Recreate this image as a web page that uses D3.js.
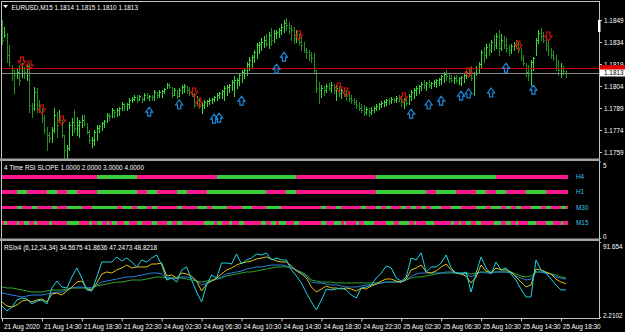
<!DOCTYPE html>
<html><head><meta charset="utf-8">
<script src="https://cdn.jsdelivr.net/npm/d3@7/dist/d3.min.js"></script>
<style>
body{margin:0;background:#000;}
svg{display:block;}
text{font-family:"Liberation Sans",Arial,sans-serif;}
</style>
</head><body>
<svg id="c" width="625" height="332"></svg>
<script>
// ---------------- DATA ----------------
const symbolTitle = "EURUSD,M15";
const firstOpen = 1.18421;
const highs = [1.18490,1.18442,1.18401,1.18319,1.18183,1.18149,1.18162,1.18183,1.18196,1.18169,
1.18190,1.18196,1.17924,1.18033,1.18026,1.17944,1.17889,1.17842,1.17760,1.17726,
1.17760,1.17889,1.17862,1.17876,1.17808,1.17705,1.17637,1.17794,1.17821,1.17876,
1.17828,1.17808,1.17842,1.17842,1.17787,1.17739,1.17692,1.17739,1.17774,1.17774,
1.17794,1.17808,1.17855,1.17855,1.17889,1.17876,1.17889,1.17896,1.17930,1.17924,
1.17924,1.17958,1.17965,1.17978,1.17978,1.17978,1.17965,1.17992,1.17992,1.17978,
1.17978,1.18012,1.17999,1.18012,1.18012,1.18026,1.18060,1.18060,1.18033,1.18026,
1.18012,1.18026,1.18046,1.18053,1.18040,1.18033,1.18026,1.17992,1.17971,1.17958,
1.17924,1.17944,1.17944,1.17958,1.17958,1.17971,1.17992,1.17999,1.18012,1.18040,
1.18046,1.18053,1.18080,1.18108,1.18094,1.18128,1.18149,1.18162,1.18203,1.18237,
1.18251,1.18285,1.18333,1.18340,1.18367,1.18381,1.18394,1.18408,1.18435,1.18421,
1.18421,1.18435,1.18462,1.18490,1.18503,1.18476,1.18456,1.18442,1.18421,1.18401,
1.18374,1.18340,1.18299,1.18285,1.18271,1.18265,1.18149,1.18067,1.18046,1.18040,
1.18053,1.18060,1.18067,1.18053,1.18046,1.18040,1.18026,1.18026,1.18012,1.17992,
1.17978,1.17958,1.17944,1.17930,1.17917,1.17910,1.17896,1.17889,1.17896,1.17903,
1.17917,1.17924,1.17937,1.17944,1.17951,1.17958,1.17965,1.17958,1.17971,1.17978,
1.17971,1.17958,1.17965,1.17985,1.18012,1.18026,1.18040,1.18046,1.18067,1.18080,
1.18067,1.18080,1.18067,1.18080,1.18087,1.18094,1.18115,1.18135,1.18149,1.18128,
1.18115,1.18108,1.18115,1.18101,1.18108,1.18121,1.18149,1.18162,1.18176,1.18135,
1.18176,1.18203,1.18285,1.18306,1.18326,1.18333,1.18353,1.18387,1.18401,1.18421,
1.18394,1.18381,1.18367,1.18319,1.18326,1.18340,1.18353,1.18340,1.18299,1.18251,
1.18196,1.18183,1.18217,1.18237,1.18367,1.18421,1.18435,1.18408,1.18374,1.18353,
1.18299,1.18285,1.18251,1.18217,1.18196,1.18176,1.18150];
const lows = [1.18326,1.18374,1.18203,1.18176,1.18080,1.17992,1.18094,1.18046,1.18101,1.18094,
1.18080,1.17862,1.17828,1.17876,1.17862,1.17862,1.17794,1.17719,1.17603,1.17658,
1.17658,1.17726,1.17692,1.17794,1.17692,1.17548,1.17535,1.17603,1.17705,1.17726,
1.17705,1.17692,1.17760,1.17774,1.17719,1.17651,1.17624,1.17637,1.17671,1.17726,
1.17739,1.17760,1.17794,1.17808,1.17828,1.17828,1.17835,1.17842,1.17876,1.17876,
1.17876,1.17889,1.17930,1.17944,1.17930,1.17944,1.17930,1.17944,1.17958,1.17944,
1.17944,1.17944,1.17958,1.17965,1.17965,1.17992,1.18026,1.18026,1.17965,1.17978,
1.17958,1.17971,1.17992,1.17999,1.17992,1.17978,1.17971,1.17896,1.17910,1.17889,
1.17855,1.17889,1.17903,1.17917,1.17924,1.17937,1.17944,1.17958,1.17958,1.17944,
1.17978,1.17999,1.18012,1.17971,1.18026,1.18046,1.18067,1.18094,1.18115,1.18149,
1.18162,1.18203,1.18230,1.18265,1.18285,1.18306,1.18312,1.18299,1.18319,1.18340,
1.18367,1.18374,1.18394,1.18408,1.18421,1.18401,1.18353,1.18333,1.18340,1.18319,
1.18285,1.18271,1.18230,1.18217,1.18203,1.18135,1.17999,1.17924,1.17965,1.17978,
1.17999,1.18012,1.17999,1.17992,1.17944,1.17971,1.17958,1.17971,1.17944,1.17937,
1.17924,1.17917,1.17889,1.17876,1.17862,1.17842,1.17849,1.17835,1.17849,1.17862,
1.17876,1.17883,1.17896,1.17903,1.17910,1.17917,1.17924,1.17930,1.17930,1.17937,
1.17903,1.17889,1.17910,1.17917,1.17944,1.17958,1.17978,1.17992,1.18012,1.18026,
1.18012,1.18033,1.18026,1.18040,1.18033,1.18046,1.18053,1.18067,1.18080,1.18067,
1.18067,1.18060,1.18067,1.18053,1.18046,1.18067,1.18094,1.18108,1.18080,1.17978,
1.18115,1.18135,1.18162,1.18203,1.18230,1.18251,1.18271,1.18285,1.18299,1.18251,
1.18285,1.18299,1.18271,1.18251,1.18265,1.18285,1.18299,1.18271,1.18217,1.18183,
1.18108,1.18080,1.18046,1.18149,1.18251,1.18333,1.18353,1.18340,1.18285,1.18251,
1.18230,1.18217,1.18149,1.18115,1.18101,1.18121,1.18100];
const closes = [1.18353,1.18387,1.18251,1.18203,1.18149,1.18115,1.18135,1.18080,1.18162,1.18135,
1.18176,1.17910,1.17889,1.17999,1.17910,1.17876,1.17821,1.17739,1.17705,1.17685,
1.17739,1.17842,1.17774,1.17808,1.17705,1.17603,1.17617,1.17774,1.17794,1.17753,
1.17774,1.17794,1.17808,1.17780,1.17726,1.17671,1.17671,1.17726,1.17753,1.17767,
1.17787,1.17801,1.17842,1.17835,1.17876,1.17862,1.17876,1.17889,1.17917,1.17903,
1.17917,1.17944,1.17951,1.17965,1.17944,1.17971,1.17951,1.17978,1.17965,1.17971,
1.17965,1.17999,1.17978,1.17999,1.18005,1.18019,1.18046,1.18033,1.17978,1.18012,
1.17971,1.18012,1.18033,1.18040,1.18012,1.17999,1.17985,1.17910,1.17944,1.17903,
1.17910,1.17930,1.17937,1.17944,1.17951,1.17965,1.17978,1.17992,1.18005,1.18026,
1.18033,1.18046,1.18067,1.18080,1.18080,1.18115,1.18135,1.18149,1.18190,1.18217,
1.18237,1.18271,1.18319,1.18326,1.18340,1.18353,1.18326,1.18387,1.18353,1.18401,
1.18408,1.18421,1.18442,1.18469,1.18456,1.18435,1.18421,1.18367,1.18387,1.18340,
1.18319,1.18285,1.18271,1.18251,1.18230,1.18149,1.18026,1.18012,1.18026,1.18012,
1.18040,1.18026,1.18046,1.18012,1.18026,1.17992,1.18012,1.17985,1.17971,1.17958,
1.17944,1.17930,1.17910,1.17889,1.17876,1.17862,1.17883,1.17862,1.17876,1.17889,
1.17903,1.17917,1.17924,1.17930,1.17944,1.17937,1.17951,1.17944,1.17958,1.17951,
1.17930,1.17944,1.17924,1.17971,1.17999,1.18012,1.18026,1.18040,1.18053,1.18046,
1.18060,1.18046,1.18060,1.18067,1.18080,1.18087,1.18108,1.18121,1.18108,1.18094,
1.18080,1.18094,1.18080,1.18094,1.18101,1.18115,1.18135,1.18121,1.18094,1.18128,
1.18162,1.18190,1.18271,1.18251,1.18306,1.18285,1.18340,1.18319,1.18381,1.18299,
1.18353,1.18319,1.18299,1.18285,1.18312,1.18326,1.18319,1.18285,1.18230,1.18196,
1.18135,1.18115,1.18203,1.18230,1.18353,1.18401,1.18381,1.18353,1.18319,1.18285,
1.18251,1.18230,1.18183,1.18149,1.18162,1.18142,1.18130];
const priceTicks = [1.1849,1.1834,1.1819,1.1804,1.1789,1.1774,1.1759];
const askPrice = 1.1816;
const bidPrice = 1.1813;
const sellIdx = [8,11,16,24,77,79,119,135,138,161,187,207,219];
const sellPrice = [1.18203,1.18176,1.17876,1.17801,1.17992,1.17924,1.18381,1.18026,1.17992,1.17958,1.18128,1.18312,1.18374];
const buyIdx = [59,71,85,87,96,110,113,164,171,176,184,187,196,202,213];
const buyPrice = [1.17869,1.17917,1.17821,1.17828,1.17944,1.18162,1.18244,1.17855,1.17917,1.17944,1.17978,1.17992,1.17999,1.18169,1.18019];

// 4 Time RSI slope: green runs (bar index ranges), pink elsewhere
const slopeNames = ["H4","H1","M30","M15"];
const slopeLevels = [4,3,2,1];
const greenH4 = [[38,53],[86,117],[150,197]];
const greenH1 = [[6,9],[18,21],[26,29],[38,53],[58,61],[70,73],[82,105],[114,117],[150,169],[174,181],[190,193],[198,201],[210,217]];
const greenM30 = [[6,7],[12,13],[20,21],[26,31],[36,45],[48,51],[54,57],[60,61],[70,71],[78,81],[84,89],[96,99],[106,111],[128,129],[134,135],[144,145],[150,151],[154,155],[160,161],[164,165],[168,169],[172,175],[180,183],[190,193],[196,199],[202,203],[206,207],[212,215],[218,219],[224,225]];
const greenM15 = [[1,1],[6,6],[9,10],[13,13],[19,19],[26,30],[35,35],[38,39],[42,42],[44,45],[49,50],[54,55],[60,61],[66,67],[70,71],[81,84],[86,87],[91,91],[95,96],[104,105],[108,109],[111,113],[117,118],[128,129],[133,135],[137,137],[142,142],[145,148],[154,156],[159,162],[165,165],[170,172],[180,180],[183,183],[186,187],[190,191],[197,199],[202,203],[206,206],[211,213],[218,220],[224,224]];
const slopeTitle = "4 Time RSI SLOPE";

// RSI x4 (values every 2 bars)
const rsiPeriods = [6,12,24,34];
const rsi6 = [15.3,9.4,14.1,22.5,24.9,23.7,17.7,21.3,22.5,17.7,
36.8,45.1,38.0,36.8,49.9,60.7,48.7,34.4,33.2,49.9,
67.8,67.8,67.8,73.8,69.0,72.6,67.8,61.9,70.2,67.8,
72.6,76.2,64.2,46.3,48.7,43.9,58.3,61.9,46.3,32.0,
20.1,40.4,52.3,48.7,66.6,66.6,65.4,77.4,65.4,70.2,
72.6,77.4,76.2,78.6,70.2,72.6,70.2,70.2,58.3,51.1,
42.8,30.8,20.1,10.6,22.5,35.6,34.4,35.6,36.8,34.4,
28.4,24.9,36.8,38.0,40.4,48.7,54.7,63.0,60.7,48.7,
45.1,49.9,72.6,70.2,78.6,55.9,61.9,61.9,66.6,76.2,
60.7,54.7,53.5,55.9,32.0,54.7,73.8,60.7,53.5,67.8,
58.3,60.7,53.5,46.3,35.6,26.1,26.1,70.2,58.3,54.7,
47.5,40.4,34.4,34.5675];
const rsi12 = [20.1,15.3,14.1,16.5,21.3,22.5,20.1,22.5,23.7,20.1,
29.6,30.8,28.4,33.2,38.0,43.9,45.1,35.6,34.4,42.8,
53.5,55.9,54.7,58.3,60.7,64.2,60.7,61.9,61.9,61.9,
65.4,65.4,66.6,51.1,52.3,48.7,54.7,53.5,51.1,45.1,
33.2,41.6,45.1,48.7,53.5,58.3,60.7,64.2,66.6,67.8,
69.0,71.4,72.6,73.8,71.4,69.0,67.8,67.8,63.0,57.1,
53.5,48.7,38.0,32.0,35.6,39.2,36.8,36.8,35.6,36.8,
35.6,33.2,36.8,35.6,39.2,41.6,45.1,47.5,47.5,45.1,
43.9,47.5,58.3,60.7,64.2,55.9,54.7,57.1,61.9,65.4,
58.3,54.7,53.5,51.1,42.8,49.9,64.2,57.1,54.7,60.7,
58.3,58.3,55.9,49.9,43.9,38.0,40.4,59.5,58.3,55.9,
53.5,47.5,43.9,41.8636];
const rsi24 = [30.8,29.6,28.4,27.3,26.1,27.3,28.4,28.4,28.4,29.6,
30.8,32.0,32.0,34.4,36.8,38.0,38.0,36.8,36.8,40.4,
43.9,45.1,46.3,47.5,48.7,49.9,49.9,51.1,52.3,53.5,
54.7,54.7,53.5,48.7,48.7,48.7,49.9,49.9,48.7,45.1,
40.4,42.8,45.1,47.5,49.9,53.5,54.7,55.9,57.1,59.5,
60.7,61.9,61.9,63.0,64.2,64.2,64.2,63.0,60.7,58.3,
54.7,51.1,43.9,42.8,42.8,41.6,40.4,40.4,39.2,38.0,
38.0,38.0,39.2,40.4,40.4,41.6,42.8,43.9,43.9,43.9,
43.9,46.3,51.1,53.5,54.7,54.7,54.7,54.7,54.7,55.9,
55.9,54.7,54.7,53.5,49.9,53.5,55.9,54.7,54.7,55.9,
55.9,55.9,54.7,51.1,48.7,46.3,47.5,55.9,55.9,54.7,
53.5,49.9,48.7,47.2473];
const rsi34 = [38.0,36.8,36.8,35.6,34.4,33.2,32.0,32.0,32.0,33.2,
34.4,34.4,34.4,35.6,36.8,36.8,36.8,36.8,36.8,39.2,
40.4,41.6,42.8,43.9,43.9,45.1,46.3,46.3,46.3,47.5,
48.7,49.9,49.9,48.7,48.7,48.7,48.7,47.5,46.3,45.1,
43.9,45.1,46.3,47.5,48.7,51.1,52.3,53.5,54.7,55.9,
55.9,57.1,58.3,59.5,60.7,61.9,61.9,61.9,60.7,58.3,
55.9,52.3,46.3,45.1,43.9,43.9,43.9,42.8,42.8,42.8,
42.8,42.8,42.8,42.8,42.8,42.8,42.8,43.9,43.9,43.9,
43.9,46.3,48.7,49.9,49.9,51.1,52.3,53.5,54.7,54.7,
54.7,54.7,54.7,54.7,53.5,54.7,55.9,55.9,55.9,55.9,
55.9,55.9,55.9,53.5,51.1,49.9,51.1,55.9,55.9,54.7,
53.5,52.3,49.9,48.8218];
const rsiMax = 91.654, rsiMin = 2.2102;

const timeIdx = [0,16,32,48,64,80,96,112,128,144,160,176,192,208,224];
const timeLabels = ["21 Aug 2020","21 Aug 14:30","21 Aug 18:30","21 Aug 22:30","24 Aug 02:30","24 Aug 06:30","24 Aug 10:30","24 Aug 14:30","24 Aug 18:30","24 Aug 22:30","25 Aug 02:30","25 Aug 06:30","25 Aug 10:30","25 Aug 14:30","25 Aug 18:30"];

// ---------------- DRAW ----------------
const FS = 6.4;
const W = 625, H = 332, AX = 599;
const svg = d3.select("#c");
svg.append("rect").attr("width",W).attr("height",H).attr("fill","#000");

const n = highs.length;
const x = d3.scaleLinear().domain([0, 226]).range([2, 565.9]);
const px = i => Math.round(x(i)) + 0.5;
const yP = d3.scaleLinear().domain([1.1759, 1.1849]).range([152, 20]);
const yS = d3.scaleLinear().domain([0, 5]).range([238, 161.5]);
const yR = d3.scaleLinear().domain([rsiMin, rsiMax]).range([317, 242]);

const opens = closes.map((c,i) => i === 0 ? firstOpen : closes[i-1]);
const barColor = i => closes[i] >= opens[i] ? "#36dc36" : "#1f8f1f";

// price bars
const gb = svg.append("g").attr("shape-rendering","crispEdges");
const idx = d3.range(n);
gb.selectAll("line.hl").data(idx).join("line")
  .attr("x1", i => px(i)).attr("x2", i => px(i))
  .attr("y1", i => Math.round(yP(highs[i]))).attr("y2", i => Math.round(yP(lows[i])) + 1)
  .attr("stroke", barColor);
gb.selectAll("rect.cl").data(idx).join("rect")
  .attr("x", i => Math.round(x(i)) + 1).attr("width", 1)
  .attr("y", i => Math.round(yP(closes[i]))).attr("height", 1)
  .attr("fill", barColor);

// ask / bid lines
svg.append("line").attr("x1",1).attr("x2",AX).attr("y1",Math.round(yP(askPrice))+0.5).attr("y2",Math.round(yP(askPrice))+0.5)
  .attr("stroke","#d00000").attr("stroke-width",1.2);
svg.append("line").attr("x1",1).attr("x2",AX).attr("y1",Math.round(yP(bidPrice))+0.5).attr("y2",Math.round(yP(bidPrice))+0.5)
  .attr("stroke","#8a8a8a").attr("stroke-width",1.2);

// arrows
function downArrow(cx, cy){
  return `M${cx-1.6},${cy-5}H${cx+1.6}V${cy-1}H${cx+3.6}L${cx},${cy+4}L${cx-3.6},${cy-1}H${cx-1.6}Z`;
}
function upArrow(cx, cy){
  return `M${cx-1.6},${cy+5}H${cx+1.6}V${cy+1}H${cx+3.6}L${cx},${cy-4}L${cx-3.6},${cy+1}H${cx-1.6}Z`;
}
svg.append("g").selectAll("path").data(sellIdx).join("path")
  .attr("d", (d,k) => downArrow(x(d), yP(sellPrice[k])))
  .attr("fill","none").attr("stroke","#e01010").attr("stroke-width",1.1);
svg.append("g").selectAll("path").data(buyIdx).join("path")
  .attr("d", (d,k) => upArrow(x(d), yP(buyPrice[k])))
  .attr("fill","none").attr("stroke","#1e90e8").attr("stroke-width",1.1);

// slope panel
const slopeGreens = [greenH4, greenH1, greenM30, greenM15];
const gs = svg.append("g").attr("shape-rendering","crispEdges");
slopeLevels.forEach((lv, r) => {
  const yc = yS(lv);
  gs.append("rect").attr("x", x(0)).attr("width", x(226) + 2.5 - x(0))
    .attr("y", yc - 1.7).attr("height", 3.5).attr("fill", "#ff168f");
  gs.selectAll(null).data(slopeGreens[r]).join("rect")
    .attr("x", d => x(d[0])).attr("width", d => x(d[1]) + 2.5 - x(d[0]))
    .attr("y", yc - 1.7).attr("height", 3.5).attr("fill", "#38cc38");
  svg.append("text").attr("x", 576).attr("y", yc + 2.3).text(slopeNames[r])
    .attr("fill", "#38c4ee").attr("font-size", FS);
});

// RSI lines
const rsiSeries = [rsi34, rsi24, rsi12, rsi6];
const rsiColors = ["#2ea82e", "#2a80e0", "#e6c21a", "#1cd6e6"];
const line = d3.line().x((d,k) => x(2*k)).y(d => yR(d));
rsiSeries.forEach((s, j) => {
  svg.append("path").attr("d", line(s)).attr("fill","none").attr("stroke", rsiColors[j]).attr("stroke-width",1);
});

// frames / separators
const frame = "#c4c4c4";
svg.append("line").attr("x1",1).attr("x2",AX).attr("y1",1.5).attr("y2",1.5).attr("stroke",frame);
svg.append("line").attr("x1",1.5).attr("x2",1.5).attr("y1",1).attr("y2",318).attr("stroke",frame);
svg.append("line").attr("x1",AX+0.5).attr("x2",AX+0.5).attr("y1",1).attr("y2",319).attr("stroke",frame);
svg.append("line").attr("x1",1).attr("x2",AX+1).attr("y1",318.5).attr("y2",318.5).attr("stroke",frame);
[158.5, 238.5].forEach(yy => {
  svg.append("rect").attr("x",0).attr("width",AX+1).attr("y",yy).attr("height",2.5).attr("fill","#a4a4a4");
});

// price axis
const styleAxis = g => {
  g.select(".domain").remove();
  g.selectAll(".tick line").attr("stroke", frame);
  g.selectAll(".tick text").attr("fill", "#fff").attr("font-size", FS)
    .attr("font-family", "Liberation Sans, Arial, sans-serif");
};
svg.append("g").attr("transform", `translate(${AX},0)`)
  .call(d3.axisRight(yP).tickValues(priceTicks).tickFormat(d3.format(".4f")).tickSize(3).tickPadding(2))
  .call(styleAxis);

// ask/bid tags (ask tag mostly hidden under the bid tag, as in MT4)
svg.append("rect").attr("x",AX+1).attr("y",yP(askPrice)-3.2).attr("width",26).attr("height",5).attr("fill","#e00000");
svg.append("rect").attr("x",AX+1).attr("y",yP(bidPrice)-3.3).attr("width",26).attr("height",7).attr("fill","#fff");
svg.append("text").attr("x",AX+5).attr("y",yP(bidPrice)+2.4).text(d3.format(".4f")(bidPrice)).attr("fill","#000").attr("font-size",FS);
// chart shift marker
svg.append("rect").attr("x",AX-1).attr("y",yP(priceTicks[0])).attr("width",2.5).attr("height",12).attr("fill","#fff");

// slope axis
const sAx = svg.append("g").attr("transform", `translate(${AX},0)`)
  .call(d3.axisRight(yS).tickValues([0,5]).tickFormat(d3.format("d")).tickSize(2).tickPadding(2))
  .call(styleAxis);
sAx.selectAll(".tick text").attr("dy", d => d === 5 ? "0.95em" : "0.05em");

// rsi axis
const rAx = svg.append("g").attr("transform", `translate(${AX},0)`)
  .call(d3.axisRight(yR).tickValues([rsiMax, rsiMin]).tickFormat(d => d === rsiMax ? "91.654" : "2.2102").tickSize(2).tickPadding(2))
  .call(styleAxis);
rAx.selectAll(".tick text").attr("dy", d => d === rsiMax ? "0.95em" : "0.0em");

// time axis
const tAx = svg.append("g").attr("transform", "translate(0,318.5)")
  .call(d3.axisBottom(x).tickValues(timeIdx).tickFormat((d,k) => timeLabels[k]).tickSize(3).tickPadding(3))
  .call(styleAxis);
tAx.selectAll(".tick text").attr("text-anchor","start").attr("x", 1.5);

// titles
svg.append("path").attr("d","M3,5H8L5.5,8Z").attr("fill","#fff");
const fmt4 = d3.format(".4f");
svg.append("text").attr("x", 11.5).attr("y", 9.5).attr("fill","#fff").attr("font-size",FS)
  .text(`${symbolTitle}  ${fmt4(opens[n-1])} ${fmt4(highs[n-1])} ${fmt4(lows[n-1])} ${fmt4(closes[n-1])}`);
svg.append("text").attr("x", 4).attr("y", 169.5).attr("fill","#fff").attr("font-size",FS)
  .text(`${slopeTitle}  ${slopeLevels.slice().reverse().map(v => d3.format(".4f")(v)).join(" ")}`);
const lastVals = [rsi6, rsi12, rsi24, rsi34].map(s => s[s.length-1]);
svg.append("text").attr("x", 4).attr("y", 249.5).attr("fill","#fff").attr("font-size",FS)
  .text(`RSIx4 (${rsiPeriods.join(",")}) ${lastVals.map(v => d3.format(".4f")(v)).join(" ")}`);
</script>
</body></html>
